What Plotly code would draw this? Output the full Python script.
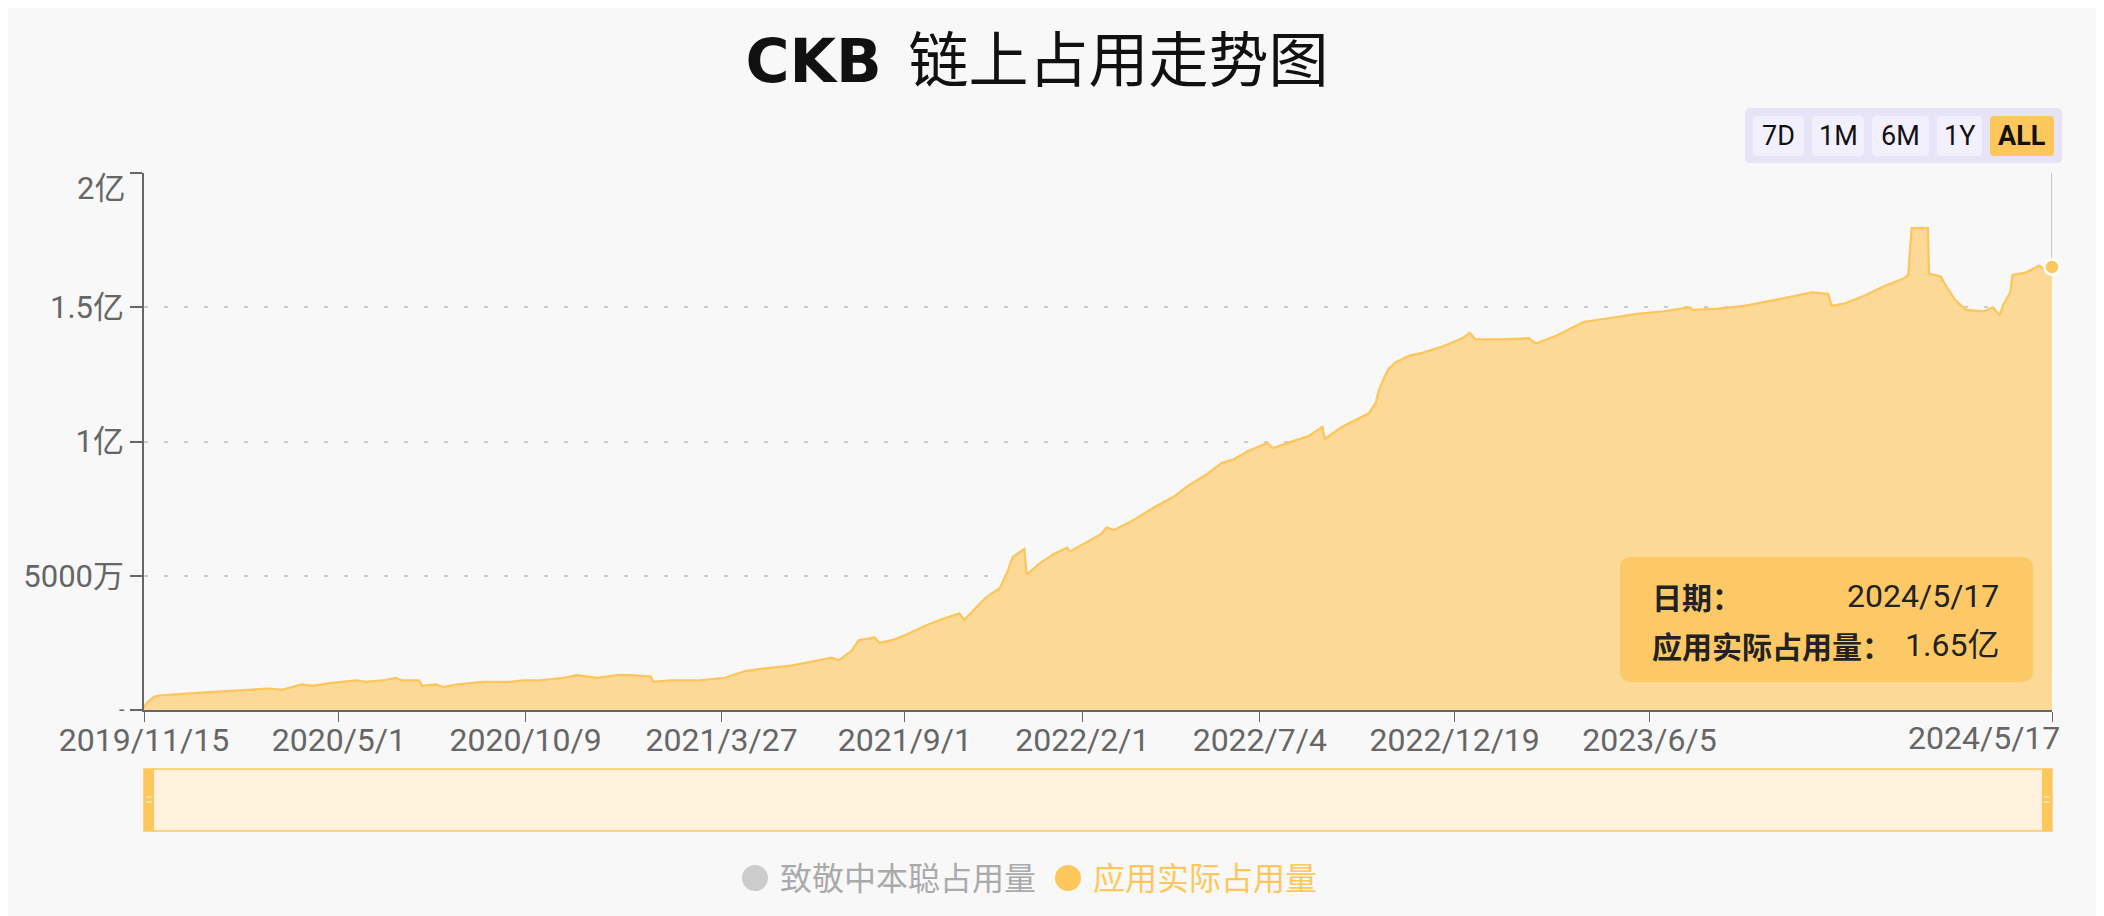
import plotly.graph_objects as go

# ---------------- data ----------------
dates = [
    "2019-11-15", "2019-11-18", "2019-11-24", "2019-11-30", "2020-01-04", "2020-02-07", "2020-03-02", "2020-03-13", "2020-03-30", "2020-04-08",
    "2020-04-23", "2020-05-16", "2020-05-24", "2020-06-08", "2020-06-19", "2020-06-25", "2020-07-09", "2020-07-12", "2020-07-24", "2020-07-30",
    "2020-08-10", "2020-09-02", "2020-09-25", "2020-10-07", "2020-10-19", "2020-11-11", "2020-11-22", "2020-12-10", "2020-12-27", "2021-01-08",
    "2021-01-25", "2021-01-27", "2021-02-11", "2021-03-06", "2021-03-30", "2021-04-16", "2021-05-03", "2021-05-26", "2021-06-13", "2021-06-30",
    "2021-07-06", "2021-07-17", "2021-07-23", "2021-08-06", "2021-08-10", "2021-08-21", "2021-09-02", "2021-09-19", "2021-10-01", "2021-10-18",
    "2021-10-22", "2021-10-30", "2021-11-10", "2021-11-22", "2021-11-28", "2021-12-03", "2021-12-13", "2021-12-15", "2021-12-26", "2022-01-07",
    "2022-01-19", "2022-01-21", "2022-02-05", "2022-02-17", "2022-02-22", "2022-02-28", "2022-03-18", "2022-04-04", "2022-04-21", "2022-05-03",
    "2022-05-20", "2022-06-01", "2022-06-12", "2022-06-24", "2022-07-11", "2022-07-15", "2022-07-28", "2022-08-15", "2022-08-27", "2022-08-29",
    "2022-09-13", "2022-09-24", "2022-10-06", "2022-10-12", "2022-10-15", "2022-10-20", "2022-10-23", "2022-10-29", "2022-11-10", "2022-11-21",
    "2022-12-09", "2022-12-26", "2023-01-01", "2023-01-06", "2023-01-29", "2023-02-21", "2023-02-27", "2023-03-17", "2023-04-09", "2023-05-02",
    "2023-05-25", "2023-06-17", "2023-07-10", "2023-07-12", "2023-08-03", "2023-08-26", "2023-09-18", "2023-10-23", "2023-11-06", "2023-11-09",
    "2023-11-21", "2023-12-08", "2023-12-25", "2024-01-09", "2024-01-14", "2024-01-17", "2024-01-31", "2024-02-01", "2024-02-11", "2024-02-17",
    "2024-02-24", "2024-03-04", "2024-03-19", "2024-03-27", "2024-04-02", "2024-04-05", "2024-04-11", "2024-04-13", "2024-04-25", "2024-05-06",
    "2024-05-11", "2024-05-17",
]

# 应用实际占用量, in millions (百万)
occupied_m = [
    1, 3, 5, 5.5, 6.5, 7.5, 8, 7.5, 9.5, 9,
    10, 11, 10.5, 11, 12, 11, 11, 9, 9.5, 8.5,
    9.5, 10.5, 10.5, 11, 11, 12, 13, 12, 13, 13,
    12.5, 10.5, 11, 11, 12, 14.5, 15.5, 16.5, 18, 19.5,
    18.5, 22, 26, 27, 25, 26, 28, 31.5, 33.5, 36,
    33.5, 37, 42, 45.5, 51, 57, 60, 50.5, 54.5, 58,
    60.5, 59, 62.5, 65.5, 68, 67, 71, 75.5, 79.5, 83.5,
    88, 92, 93.5, 96.5, 99.5, 97.5, 99.5, 102, 105.5, 101,
    105.5, 108, 110.5, 114.5, 119.5, 124.5, 127, 129.5, 132, 133,
    135.5, 138.5, 140.5, 138, 138, 138.5, 136.5, 139.5, 144.5, 146,
    147.5, 148.5, 150, 149, 149.5, 150.5, 152.5, 155.5, 155, 150.5,
    151.5, 154.5, 158, 160.5, 162, 179.5, 179.5, 162.5, 161.5, 157,
    152.5, 149, 148.5, 150, 147, 151, 155.5, 162, 163, 165.5,
    164, 165,
]

x_tick_dates = ["2019-11-15", "2020-05-01", "2020-10-09", "2021-03-27", "2021-09-01",
                "2022-02-01", "2022-07-04", "2022-12-19", "2023-06-05", "2024-05-17"]
x_tick_labels = ["2019/11/15", "2020/5/1", "2020/10/9", "2021/3/27", "2021/9/1",
                 "2022/2/1", "2022/7/4", "2022/12/19", "2023/6/5", "2024/5/17"]
y_tick_vals = [0, 50, 100, 150, 200]
y_tick_labels = ["-", "5000万", "1亿", "1.5亿", "2亿"]
range_buttons = ["7D", "1M", "6M", "1Y", "ALL"]
legend_names = ["致敬中本聪占用量", "应用实际占用量"]
title_main = "CKB"
title_sub = "链上占用走势图"

# ---------------- layout helpers (page pixels -> paper) ----------------
PAGE_W, PAGE_H = 2104, 916
OFF = 8                      # browser body margin
W, H = PAGE_W - OFF, PAGE_H - OFF
L, R, T, B = 144, 2052, 173, 710   # plot area in page pixels


def px(x):
    return (x - L) / (R - L)


def py(y):
    return (B - y) / (B - T)


def rounded_rect(x0, y0, x1, y1, r):
    X = lambda v: f"{px(v):.6f}"
    Y = lambda v: f"{py(v):.6f}"
    return (f"M {X(x0 + r)},{Y(y0)} L {X(x1 - r)},{Y(y0)} Q {X(x1)},{Y(y0)} {X(x1)},{Y(y0 + r)} "
            f"L {X(x1)},{Y(y1 - r)} Q {X(x1)},{Y(y1)} {X(x1 - r)},{Y(y1)} "
            f"L {X(x0 + r)},{Y(y1)} Q {X(x0)},{Y(y1)} {X(x0)},{Y(y1 - r)} "
            f"L {X(x0)},{Y(y0 + r)} Q {X(x0)},{Y(y0)} {X(x0 + r)},{Y(y0)} Z")


FONT = "Roboto, 'Noto Sans CJK SC', sans-serif"
CJK = "'Noto Sans CJK SC', Roboto, sans-serif"
ORANGE = "#fec75c"
AXIS = "#666666"

fig = go.Figure()

fig.add_trace(go.Scatter(
    x=dates, y=occupied_m, mode="lines", name=legend_names[1],
    line=dict(color="#fdc55a", width=2.2), fill="tozeroy", fillcolor="#fcd997",
    hoverinfo="skip", showlegend=False,
))
fig.add_trace(go.Scatter(
    x=[dates[-1]], y=[occupied_m[-1]], mode="markers", cliponaxis=False,
    marker=dict(size=15, color=ORANGE, line=dict(color="white", width=2.5)),
    hoverinfo="skip", showlegend=False,
))

shapes = []
annotations = []

# axis pointer at last point
shapes.append(dict(type="line", xref="x", yref="paper", x0=dates[-1], x1=dates[-1], y0=0, y1=1,
                   line=dict(color="#aaaaaa", width=1.2), layer="below"))

# tooltip box
shapes.append(dict(type="path", xref="paper", yref="paper", path=rounded_rect(1620, 557, 2033, 682, 12),
                   fillcolor="#fdc966", line=dict(width=0), layer="above"))
y_, m_, d_ = dates[-1].split("-")
tip_date = f"{int(y_)}/{int(m_)}/{int(d_)}"
tip_val = f"{occupied_m[-1] / 100:.2f}亿"
annotations += [
    dict(text="<b>日期：</b>", x=px(1650), y=py(596), xanchor="left", yanchor="middle",
         font=dict(size=30, color="#222222", family=CJK)),
    dict(text=tip_date, x=px(2001), y=py(596), xanchor="right", yanchor="middle",
         font=dict(size=32, color="#222222", family=FONT)),
    dict(text=f"<b>{legend_names[1]}：</b>", x=px(1650), y=py(645), xanchor="left", yanchor="middle",
         font=dict(size=30, color="#222222", family=CJK)),
    dict(text=tip_val, x=px(2001), y=py(645), xanchor="right", yanchor="middle",
         font=dict(size=32, color="#222222", family=FONT)),
]

# last x tick label (right aligned so it stays on the page)
annotations.append(dict(text=x_tick_labels[-1], x=px(2062), y=py(738), xanchor="right", yanchor="middle",
                        font=dict(size=32, color=AXIS, family=FONT)))
# top y tick label (sits just below its tick, as in the original)
annotations.append(dict(text=y_tick_labels[-1], x=px(127), y=py(189), xanchor="right", yanchor="middle",
                        font=dict(size=31, color=AXIS, family=FONT)))
# zero y tick label: a small dash beside the origin
annotations.append(dict(text=y_tick_labels[0], x=px(127), y=py(709), xanchor="right", yanchor="middle",
                        font=dict(size=20, color=AXIS, family=FONT)))

# range buttons
shapes.append(dict(type="path", xref="paper", yref="paper", path=rounded_rect(1745, 108, 2062, 163, 5),
                   fillcolor="#e6e4f6", line=dict(width=0)))
btn_boxes = [(1753, 1804), (1812, 1864), (1872, 1929), (1937, 1982), (1990, 2054)]
for lbl, (b0, b1) in zip(range_buttons, btn_boxes):
    active = lbl == "ALL"
    shapes.append(dict(type="path", xref="paper", yref="paper", path=rounded_rect(b0, 116, b1, 156, 4),
                       fillcolor=ORANGE if active else "#f3f0fd", line=dict(width=0)))
    annotations.append(dict(text=f"<b>{lbl}</b>" if active else lbl, x=px((b0 + b1) / 2), y=py(136),
                            xanchor="center", yanchor="middle",
                            font=dict(size=27, color="#111111", family=FONT)))

# data-zoom slider
shapes.append(dict(type="rect", xref="paper", yref="paper", x0=px(144), x1=px(2052), y0=py(831), y1=py(769),
                   fillcolor="#fef2dc", line=dict(color=ORANGE, width=1.5)))
for h0, h1 in [(144, 154), (2042, 2052)]:
    shapes.append(dict(type="rect", xref="paper", yref="paper", x0=px(h0), x1=px(h1), y0=py(831), y1=py(769),
                       fillcolor=ORANGE, line=dict(width=0)))
    for yy in (797, 802):
        shapes.append(dict(type="line", xref="paper", yref="paper", x0=px(h0 + 2.5), x1=px(h1 - 2.5),
                           y0=py(yy), y1=py(yy), line=dict(color="white", width=1)))

# custom legend
legend_items = [(755, 778, "#cccccc", "#aaaaaa", legend_names[0]),
                (1068, 1091, ORANGE, ORANGE, legend_names[1])]
for cx, tx, ccol, tcol, name in legend_items:
    shapes.append(dict(type="circle", xref="paper", yref="paper", xsizemode="pixel", ysizemode="pixel",
                       xanchor=px(cx), yanchor=py(878), x0=-13, x1=13, y0=-13, y1=13,
                       fillcolor=ccol, line=dict(width=0)))
    annotations.append(dict(text=name, x=px(tx), y=py(876), xanchor="left", yanchor="middle",
                            font=dict(size=32, color=tcol, family=CJK)))

fig.update_layout(
    width=W, height=H,
    margin=dict(l=L - OFF, r=PAGE_W - R, t=T - OFF, b=PAGE_H - B, pad=0),
    paper_bgcolor="#f8f8f8", plot_bgcolor="#f8f8f8",
    title=dict(text=f"<span style='font-family:DejaVu Sans;font-weight:bold'>{title_main}</span>  {title_sub}",
               x=(1037 - OFF) / W, xanchor="center", y=1 - (61 - OFF) / H, yanchor="middle",
               font=dict(size=60, color="#111111", family=CJK)),
    showlegend=False,
    xaxis=dict(
        type="date", range=[dates[0], dates[-1]],
        tickvals=x_tick_dates, ticktext=x_tick_labels[:-1] + [""],
        showline=True, linecolor=AXIS, linewidth=1.5,
        ticks="outside", ticklen=10, tickcolor=AXIS, tickwidth=1.2,
        ticklabelstandoff=-9,
        showgrid=False, zeroline=False,
        tickfont=dict(size=32, color=AXIS, family=FONT),
        fixedrange=True,
    ),
    yaxis=dict(
        range=[0, 200], tickvals=y_tick_vals, ticktext=[""] + y_tick_labels[1:-1] + [""],
        showline=True, linecolor=AXIS, linewidth=1.5,
        ticks="outside", ticklen=12, tickcolor=AXIS, tickwidth=1.5,
        showgrid=True, gridcolor="#cccccc", gridwidth=1.5, griddash="4px,16px",
        zeroline=False,
        tickfont=dict(size=31, color=AXIS, family=FONT),
        fixedrange=True,
    ),
    shapes=shapes,
    annotations=[dict(a, xref="paper", yref="paper", showarrow=False) for a in annotations],
)

fig.write_html("out.html")
